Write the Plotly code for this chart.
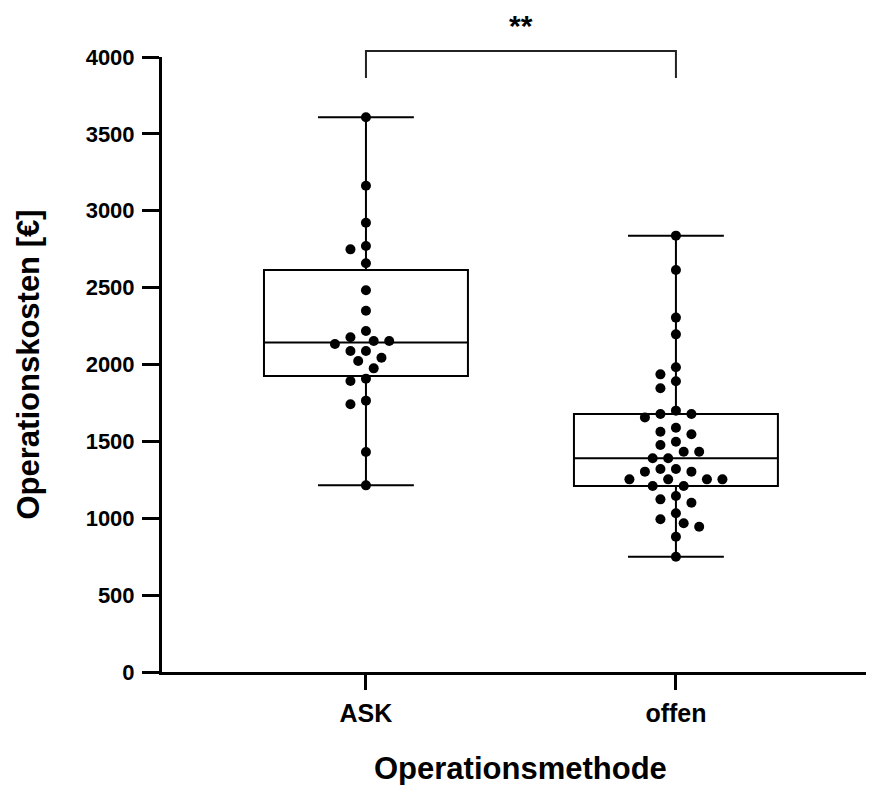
import numpy as np
import plotly.graph_objects as go

# ---------------- data ----------------
categories = ["ASK", "offen"]
ask_values = [3608, 3163, 2922, 2771, 2749, 2658, 2483, 2350, 2218, 2177, 2153, 2153,
              2133, 2088, 2088, 2044, 2023, 1975, 1908, 1893, 1765, 1741, 1431, 1214]
offen_values = [2838, 2615, 2305, 2196, 1982, 1936, 1891, 1845, 1700, 1678, 1678, 1656,
                1589, 1563, 1546, 1498, 1476, 1433, 1433, 1390, 1390, 1320, 1320, 1303,
                1303, 1253, 1253, 1253, 1253, 1210, 1210, 1145, 1123, 1101, 1032, 993,
                967, 945, 880, 750]
y_tick_values = [0, 500, 1000, 1500, 2000, 2500, 3000, 3500, 4000]
significance_label = "**"
x_title = "Operationsmethode"
y_title = "Operationskosten [€]"

# ---------------- layout constants ----------------
# the page body adds an 8 px margin, so the figure is 8 px smaller
W, H = 866, 777
ML, MR, MT, MB = 154, 0, 49, 113
x_range = [-0.658, 1.639]
y_range = [0, 4000]
plot_w = W - ML - MR
plot_h = H - MT - MB
px_per_x = plot_w / (x_range[1] - x_range[0])
px_per_y = plot_h / (y_range[1] - y_range[0])
FONT = "Liberation Sans, Arial, sans-serif"


def beeswarm(values, d=11.0, step=7.75):
    """Greedy beeswarm: offsets (in x data units) so dots do not overlap."""
    vals = np.asarray(values, dtype=float)
    order = np.argsort(-vals, kind="stable")
    placed = []
    offs = np.zeros(len(vals))
    cands = [0.0] + [s * k * step for k in range(1, 12) for s in (-1, 1)]
    for i in order:
        y = vals[i] * px_per_y
        chosen = cands[-1]
        for c in cands:
            if all((c - px) ** 2 + (y - py) ** 2 >= d * d for px, py in placed):
                chosen = c
                break
        placed.append((chosen, y))
        offs[i] = chosen / px_per_x
    return offs


fig = go.Figure()
groups = [ask_values, offen_values]
for pos, (name, vals) in enumerate(zip(categories, groups)):
    arr = np.asarray(vals, dtype=float)
    q1, med, q3 = np.percentile(arr, [25, 50, 75], method="weibull")
    fig.add_trace(go.Box(
        x=[pos], q1=[q1], median=[med], q3=[q3],
        lowerfence=[arr.min()], upperfence=[arr.max()],
        width=0.658, whiskerwidth=0.47,
        fillcolor="rgba(255,255,255,0)",
        line=dict(color="black", width=2),
        boxpoints=False, hoverinfo="skip", showlegend=False, name=name,
    ))
    offs = beeswarm(vals)
    fig.add_trace(go.Scatter(
        x=pos + offs, y=arr, mode="markers",
        marker=dict(color="black", size=10, line=dict(width=0)),
        cliponaxis=False, showlegend=False, hoverinfo="skip",
    ))

# significance bracket (page y: top 51, legs down to 78; plot top at 57)
top = 1 + 6 / plot_h
leg = 1 - 21 / plot_h
fig.add_shape(type="path", xref="x", yref="paper",
              path=f"M 0,{leg} L 0,{top} L 1,{top} L 1,{leg}",
              line=dict(color="#222222", width=2))
fig.add_annotation(x=0.5, xref="x", y=1 + MT / plot_h, yref="paper",
                   text=significance_label, showarrow=False,
                   font=dict(family=FONT, size=30, color="black", weight="bold"),
                   yanchor="top", borderpad=0)

# axis titles
fig.add_annotation(x=(20 - ML) / plot_w, xref="paper", y=0.5, yref="paper",
                   text=y_title, textangle=-90, showarrow=False, xanchor="center",
                   font=dict(family=FONT, size=31, color="black", weight="bold"))
fig.add_annotation(x=0.5, xref="x", y=-(760 - 664) / plot_h, yref="paper",
                   text=x_title, showarrow=False, yanchor="middle",
                   font=dict(family=FONT, size=31, color="black", weight="bold"))

fig.update_layout(
    width=W, height=H,
    margin=dict(l=ML, r=MR, t=MT, b=MB),
    paper_bgcolor="white", plot_bgcolor="white",
    font=dict(family=FONT, color="black"),
    showlegend=False,
)
fig.update_xaxes(
    range=x_range, tickvals=[0, 1], ticktext=categories,
    showline=True, linecolor="black", linewidth=3,
    ticks="outside", ticklen=15, tickwidth=3, tickcolor="black",
    showgrid=False, zeroline=False, ticklabelstandoff=2,
    tickfont=dict(family=FONT, size=25, color="black", weight="bold"),
)
fig.update_yaxes(
    range=y_range, tickvals=y_tick_values,
    ticktext=[str(v) for v in y_tick_values],
    showline=True, linecolor="black", linewidth=3,
    ticks="outside", ticklen=17, tickwidth=3, tickcolor="black",
    showgrid=False, zeroline=False, ticklabelstandoff=3,
    tickfont=dict(family=FONT, size=22, color="black", weight="bold"),
)

fig.write_html("out.html")
